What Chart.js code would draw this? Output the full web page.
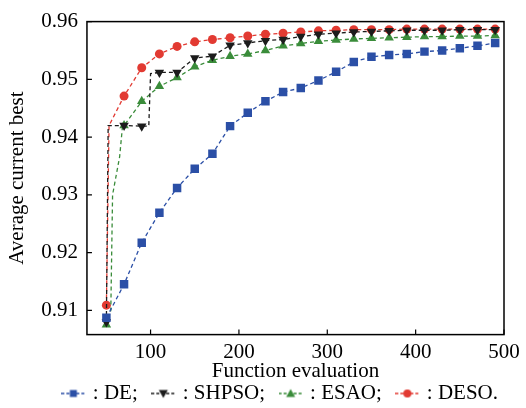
<!DOCTYPE html>
<html>
<head>
<meta charset="utf-8">
<script src="https://cdn.jsdelivr.net/npm/chart.js@4.4.0/dist/chart.umd.min.js"></script>
<style>
  html, body { margin: 0; padding: 0; background: #fff; }
</style>
</head>
<body>
<canvas id="myLineChart" width="526" height="408"></canvas>
<script>
// Marker positions (every 20 evaluations)
const evals = [50, 70, 90, 110, 130, 150, 170, 190, 210, 230, 250, 270, 290, 310, 330, 350, 370, 390, 410, 430, 450, 470, 490];

const deX = evals;
const deValues = [0.9087, 0.9145, 0.9217, 0.9269, 0.9312, 0.9345, 0.9371, 0.9419, 0.9442, 0.9462, 0.9478, 0.9485, 0.9498, 0.9513, 0.9530, 0.9539, 0.9542, 0.9544, 0.9548, 0.9550, 0.9554, 0.9558, 0.9563];

const shpsoX = [50, 52, 70, 90, 98, 100, 110, 130, 150, 170, 190, 210, 230, 250, 270, 290, 310, 330, 350, 370, 390, 410, 430, 450, 470, 490];
const shpsoValues = [0.9080, 0.9420, 0.9420, 0.9419, 0.9419, 0.9510, 0.9512, 0.9512, 0.9537, 0.9540, 0.9559, 0.9563, 0.9567, 0.9569, 0.9574, 0.9578, 0.9580, 0.9582, 0.9583, 0.9584, 0.9585, 0.9585, 0.9585, 0.9586, 0.9586, 0.9586];

const esaoX = [50, 55, 57, 65, 68, 70, 90, 110, 130, 150, 170, 190, 210, 230, 250, 270, 290, 310, 330, 350, 370, 390, 410, 430, 450, 470, 490];
const esaoValues = [0.9075, 0.9100, 0.9300, 0.9366, 0.9415, 0.9420, 0.9462, 0.9488, 0.9503, 0.9522, 0.9533, 0.9540, 0.9544, 0.9550, 0.9558, 0.9562, 0.9566, 0.9568, 0.9570, 0.9571, 0.9572, 0.9573, 0.9574, 0.9574, 0.9575, 0.9575, 0.9576];

const desoX = [50, 53, 70, 90, 110, 130, 150, 170, 190, 210, 230, 250, 270, 290, 310, 330, 350, 370, 390, 410, 430, 450, 470, 490];
const desoValues = [0.9109, 0.9420, 0.9471, 0.9520, 0.9544, 0.9557, 0.9565, 0.9569, 0.9572, 0.9575, 0.9578, 0.9580, 0.9582, 0.9584, 0.9585, 0.9586, 0.9586, 0.9586, 0.9587, 0.9587, 0.9587, 0.9587, 0.9587, 0.9587];

const xTicks = [100, 200, 300, 400, 500];
const yTicks = [0.91, 0.92, 0.93, 0.94, 0.95, 0.96];

const FONT = "'Liberation Serif', 'Times New Roman', serif";

function toPoints(xs, ys) {
  return xs.map((x, i) => ({ x: x, y: ys[i] }));
}
function isMarker(x) {
  return (x - 50) % 20 === 0;
}

// small "-■-" style legend icon
function legendIcon(color, style) {
  const c = document.createElement("canvas");
  c.width = 24; c.height = 12;
  const g = c.getContext("2d");
  g.strokeStyle = color; g.fillStyle = color; g.lineWidth = 1.3;
  g.setLineDash([3, 2]);
  g.beginPath(); g.moveTo(0, 6); g.lineTo(24, 6); g.stroke();
  g.setLineDash([]);
  g.beginPath();
  if (style === "rect") g.rect(8.5, 2.5, 7, 7);
  else if (style === "circle") g.arc(12, 6, 4, 0, Math.PI * 2);
  else if (style === "up") { g.moveTo(12, 1.5); g.lineTo(16.5, 9.5); g.lineTo(7.5, 9.5); g.closePath(); }
  else { g.moveTo(12, 10.5); g.lineTo(16.5, 2.5); g.lineTo(7.5, 2.5); g.closePath(); }
  g.fill();
  return c;
}

const series = [
  { label: ": DE;", xs: deX, ys: deValues, color: "#2b4fa6", style: "rect", icon: "rect", r: 6 },
  { label: ": SHPSO;", xs: shpsoX, ys: shpsoValues, color: "#1c1c1c", style: "triangle", icon: "down", r: 5.5, rot: 180 },
  { label: ": ESAO;", xs: esaoX, ys: esaoValues, color: "#3a8c3a", style: "triangle", icon: "up", r: 5.5 },
  { label: ": DESO.", xs: desoX, ys: desoValues, color: "#e23a32", style: "circle", icon: "circle", r: 4.5 },
];

// box + inward ticks
const framePlugin = {
  id: "frame",
  afterDraw(chart) {
    const { ctx, chartArea: a, scales } = chart;
    ctx.save();
    ctx.strokeStyle = "#000";
    ctx.lineWidth = 1.5;
    ctx.strokeRect(a.left, a.top, a.right - a.left, a.bottom - a.top);
    ctx.lineWidth = 1.2;
    ctx.beginPath();
    xTicks.forEach(v => {
      const px = scales.x.getPixelForValue(v);
      ctx.moveTo(px, a.bottom); ctx.lineTo(px, a.bottom - 5);
    });
    yTicks.forEach(v => {
      const py = scales.y.getPixelForValue(v);
      ctx.moveTo(a.left, py); ctx.lineTo(a.left + 5, py);
    });
    ctx.stroke();
    ctx.restore();
  }
};

const ctx = document.getElementById("myLineChart").getContext("2d");
const myLineChart = new Chart(ctx, {
  type: "line",
  data: {
    datasets: series.map(s => ({
      label: s.label,
      data: toPoints(s.xs, s.ys),
      borderColor: s.color,
      backgroundColor: s.color,
      borderWidth: 1.3,
      borderDash: [4, 3],
      pointStyle: s.style,
      pointRotation: s.rot || 0,
      pointRadius: c => isMarker(c.raw.x) ? s.r : 0,
      pointBorderWidth: 0,
      fill: false,
      tension: 0,
      iconImg: legendIcon(s.color, s.icon),
    })),
  },
  options: {
    responsive: false,
    animation: false,
    layout: { padding: { left: 5, right: 22, top: -1, bottom: -6 } },
    scales: {
      x: {
        type: "linear",
        min: 28,
        max: 500,
        afterBuildTicks: sc => { sc.ticks = xTicks.map(v => ({ value: v })); },
        grid: { display: false, drawTicks: false },
        border: { display: false },
        ticks: { color: "#000", font: { family: FONT, size: 21 }, padding: 5, maxRotation: 0 },
        title: { display: true, text: "Function evaluation", color: "#000", font: { family: FONT, size: 21 }, padding: { top: -11, bottom: -7 } },
      },
      y: {
        min: 0.9058,
        max: 0.96,
        afterBuildTicks: sc => { sc.ticks = yTicks.map(v => ({ value: v })); },
        grid: { display: false, drawTicks: false },
        border: { display: false },
        ticks: { color: "#000", font: { family: FONT, size: 21 }, padding: 9, callback: v => v.toFixed(2) },
        title: { display: true, text: "Average current best", color: "#000", font: { family: FONT, size: 21 }, padding: { top: 0, bottom: 2 } },
      },
    },
    plugins: {
      legend: {
        position: "bottom",
        align: "end",
        labels: {
          color: "#000",
          font: { family: FONT, size: 21 },
          usePointStyle: true,
          pointStyleWidth: 18,
          padding: 6,
          generateLabels: chart => chart.data.datasets.map((d, i) => ({
            text: i < 3 ? d.label + "\u2002" : d.label,
            pointStyle: d.iconImg,
            fillStyle: d.borderColor,
            strokeStyle: d.borderColor,
            lineWidth: 0,
            datasetIndex: i,
            fontColor: "#000",
          })),
        },
      },
      tooltip: { enabled: false },
    },
  },
  plugins: [framePlugin],
});
</script>
</body>
</html>
